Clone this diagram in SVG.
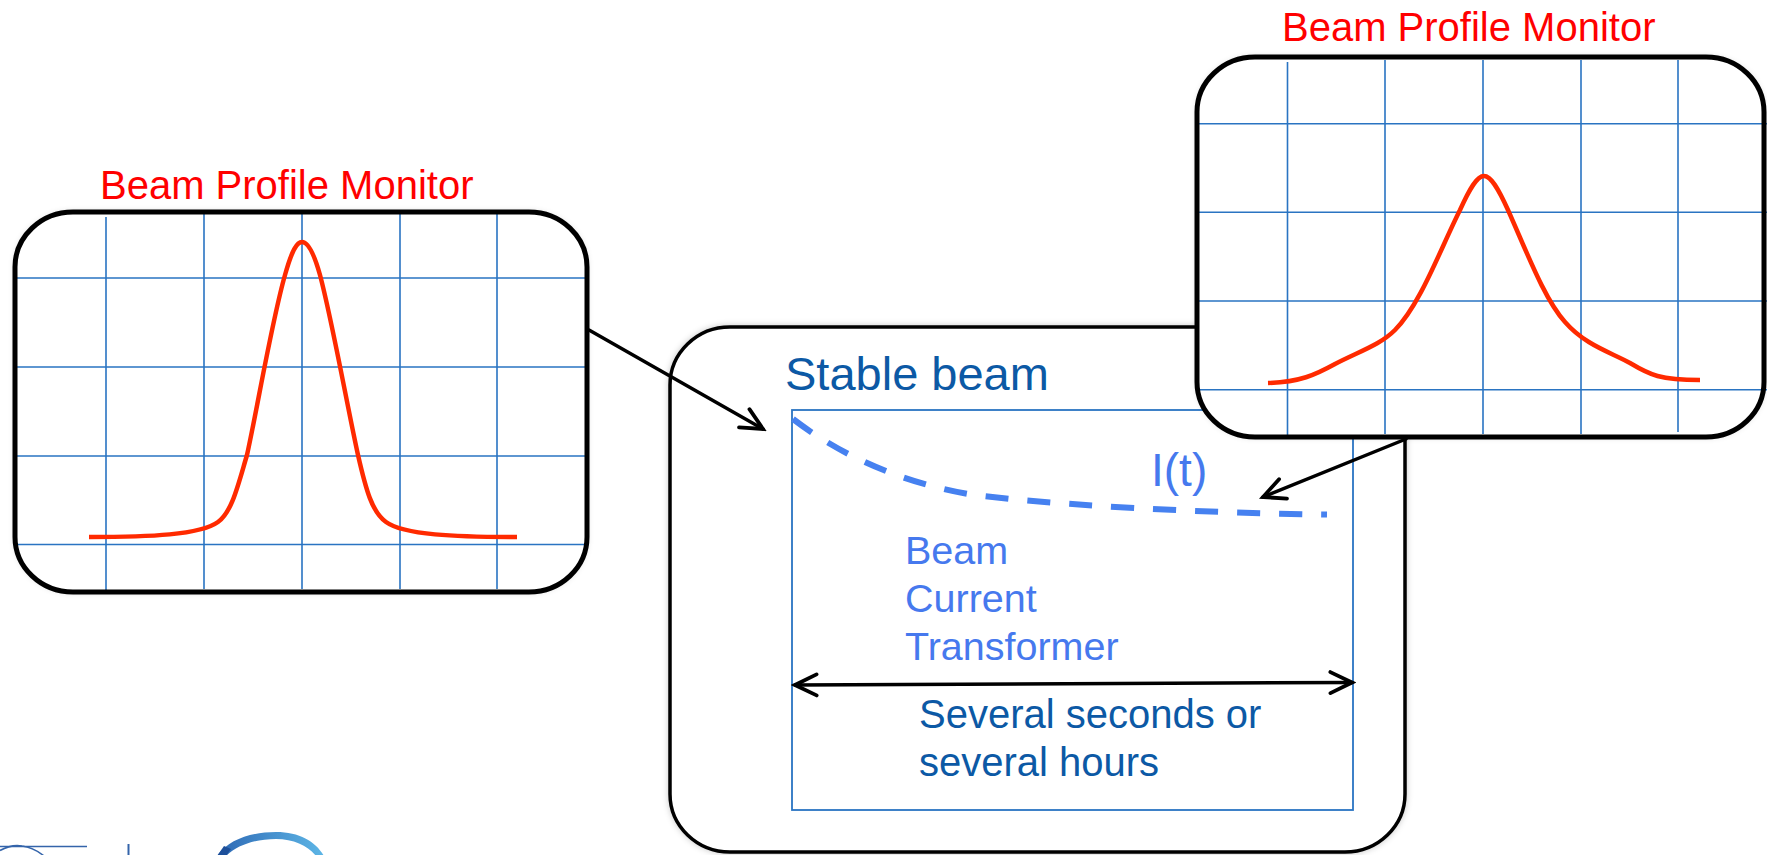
<svg xmlns="http://www.w3.org/2000/svg" width="1767" height="855" viewBox="0 0 1767 855">
  <defs>
    <style>
      .screen { fill: #ffffff; }
      .frame { fill: none; stroke: #000000; stroke-width: 5; }
      .panel { fill: #ffffff; stroke: #000000; stroke-width: 3.5; }
      .grid { stroke: #2a74c2; stroke-width: 1.6; fill: none; }
      .trace { fill: none; stroke: #ff2a00; stroke-width: 4.5; stroke-linecap: butt; }
      .title { font-family: "Liberation Sans", Arial, sans-serif; font-size: 40px; fill: #ff0000; }
      .dark { font-family: "Liberation Sans", Arial, sans-serif; fill: #0c59a5; }
      .light { font-family: "Liberation Sans", Arial, sans-serif; fill: #4679ee; }
      .link { fill: none; stroke: #000000; stroke-width: 3.5; stroke-linecap: round; }
    </style>
    <filter id="soft" x="-5%" y="-5%" width="110%" height="110%">
      <feDropShadow dx="0" dy="0" stdDeviation="3" flood-color="#000000" flood-opacity="0.22"/>
    </filter>
    <marker id="head" markerUnits="userSpaceOnUse" viewBox="-26 -14 30 28" refX="0" refY="0" markerWidth="30" markerHeight="28" orient="auto-start-reverse">
      <path d="M -21.6 -10.5 L 0 0 L -21.6 10.5" fill="none" stroke="#000000" stroke-width="3.8" stroke-linecap="round" stroke-linejoin="miter"/>
    </marker>
    <linearGradient id="ring" x1="0" y1="0" x2="1" y2="0">
      <stop offset="0" stop-color="#2d68b4"/>
      <stop offset="1" stop-color="#5db6e6"/>
    </linearGradient>
  </defs>

  <rect width="1767" height="855" fill="#ffffff"/>

  <!-- stable beam panel with the current transformer trace -->
  <g id="stable-beam">
    <rect class="panel" x="670" y="327" width="735" height="525" rx="60" ry="58" filter="url(#soft)"/>
    <text class="dark" x="785" y="390" font-size="47">Stable beam</text>
  </g>

  <g id="bct">
    <rect x="792" y="410" width="561" height="400" fill="none" stroke="#2a74c2" stroke-width="1.8"/>
    <path d="M 793 419 C 840 455 900 482 968 494 C 1050 505 1200 513 1327 514.5" fill="none" stroke="#4681f0" stroke-width="6" stroke-dasharray="23 19"/>
    <text class="light" x="1151" y="486" font-size="46">I(t)</text>
    <text class="light" font-size="39.5">
      <tspan x="905" y="564">Beam</tspan>
      <tspan x="905" y="612">Current</tspan>
      <tspan x="905" y="660">Transformer</tspan>
    </text>
    <text class="dark" font-size="40">
      <tspan x="919" y="728">Several seconds or</tspan>
      <tspan x="919" y="776">several hours</tspan>
    </text>
  </g>

  <!-- narrow beam profile -->
  <g id="monitor-left">
    <text class="title" x="100" y="199">Beam Profile Monitor</text>
    <rect class="screen" x="15" y="212" width="572" height="380" rx="58" ry="55" filter="url(#soft)"/>
    <g class="grid">
      <path d="M 17 278 H 589 M 17 367 H 589 M 17 456 H 589 M 17 544.5 H 589"/>
      <path d="M 106 217 V 590 M 204 214 V 589 M 302 214 V 589 M 400 214 V 589 M 497 214 V 589"/>
    </g>
    <path class="trace" d="M 89 537 C 150 537 200 535 218 522 C 232 512 238 485 247 455 C 257 410 272 320 285 275 C 292 250 297 242 302 242 C 307 242 313 250 320 275 C 332 320 348 410 358 455 C 366 490 372 512 386 522 C 404 535 455 537 517 537"/>
    <rect class="frame" x="15" y="212" width="572" height="380" rx="58" ry="55"/>
  </g>

  <!-- wide beam profile -->
  <g id="monitor-right">
    <text class="title" x="1282" y="41">Beam Profile Monitor</text>
    <rect class="screen" x="1197" y="57" width="567" height="380" rx="58" ry="55" filter="url(#soft)"/>
    <g class="grid">
      <path d="M 1199 123.7 H 1767 M 1199 212.3 H 1767 M 1199 301 H 1767 M 1199 389.7 H 1767"/>
      <path d="M 1287.5 62 V 435 M 1385 60 V 434 M 1483 60 V 434 M 1581 60 V 434 M 1678 60 V 432"/>
    </g>
    <path class="trace" d="M 1268 383 C 1300 382 1315 375 1335 364 C 1360 351 1380 345 1395 330 C 1420 305 1440 250 1460 210 C 1470 188 1477 176 1484 176 C 1491 176 1498 188 1508 210 C 1528 255 1545 300 1565 322 C 1585 345 1610 352 1630 363 C 1650 375 1660 380 1700 380"/>
    <rect class="frame" x="1197" y="57" width="567" height="380" rx="58" ry="55"/>
  </g>

  <g id="connectors">
    <line class="link" x1="589" y1="330" x2="763" y2="429" marker-end="url(#head)"/>
    <line class="link" x1="1406" y1="439" x2="1263" y2="497" marker-end="url(#head)"/>
    <line class="link" x1="795" y1="685" x2="1352" y2="682.5" marker-start="url(#head)" marker-end="url(#head)"/>
  </g>

  <!-- partly visible emblem in the lower left corner -->
  <g id="logo">
    <path d="M 0 846.5 H 87" stroke="#3464aa" stroke-width="1.6" fill="none"/>
    <path d="M 0 850.5 C 8 846 16 845 22 846 C 30 847 38 851 44 856" stroke="#3464aa" stroke-width="1.6" fill="none"/>
    <path d="M 128.5 844 V 855" stroke="#3464aa" stroke-width="2" fill="none"/>
    <path d="M 217 856 C 228 840 250 832 276 832 C 300 832 316 842 324 856 L 316 856 C 308 846 294 839 276 839 C 254 839 236 846 226 856 Z" fill="url(#ring)"/>
    <path d="M 217 856 L 224 846 L 231 849 L 226 856 Z" fill="#1d4f9a"/>
  </g>
</svg>
